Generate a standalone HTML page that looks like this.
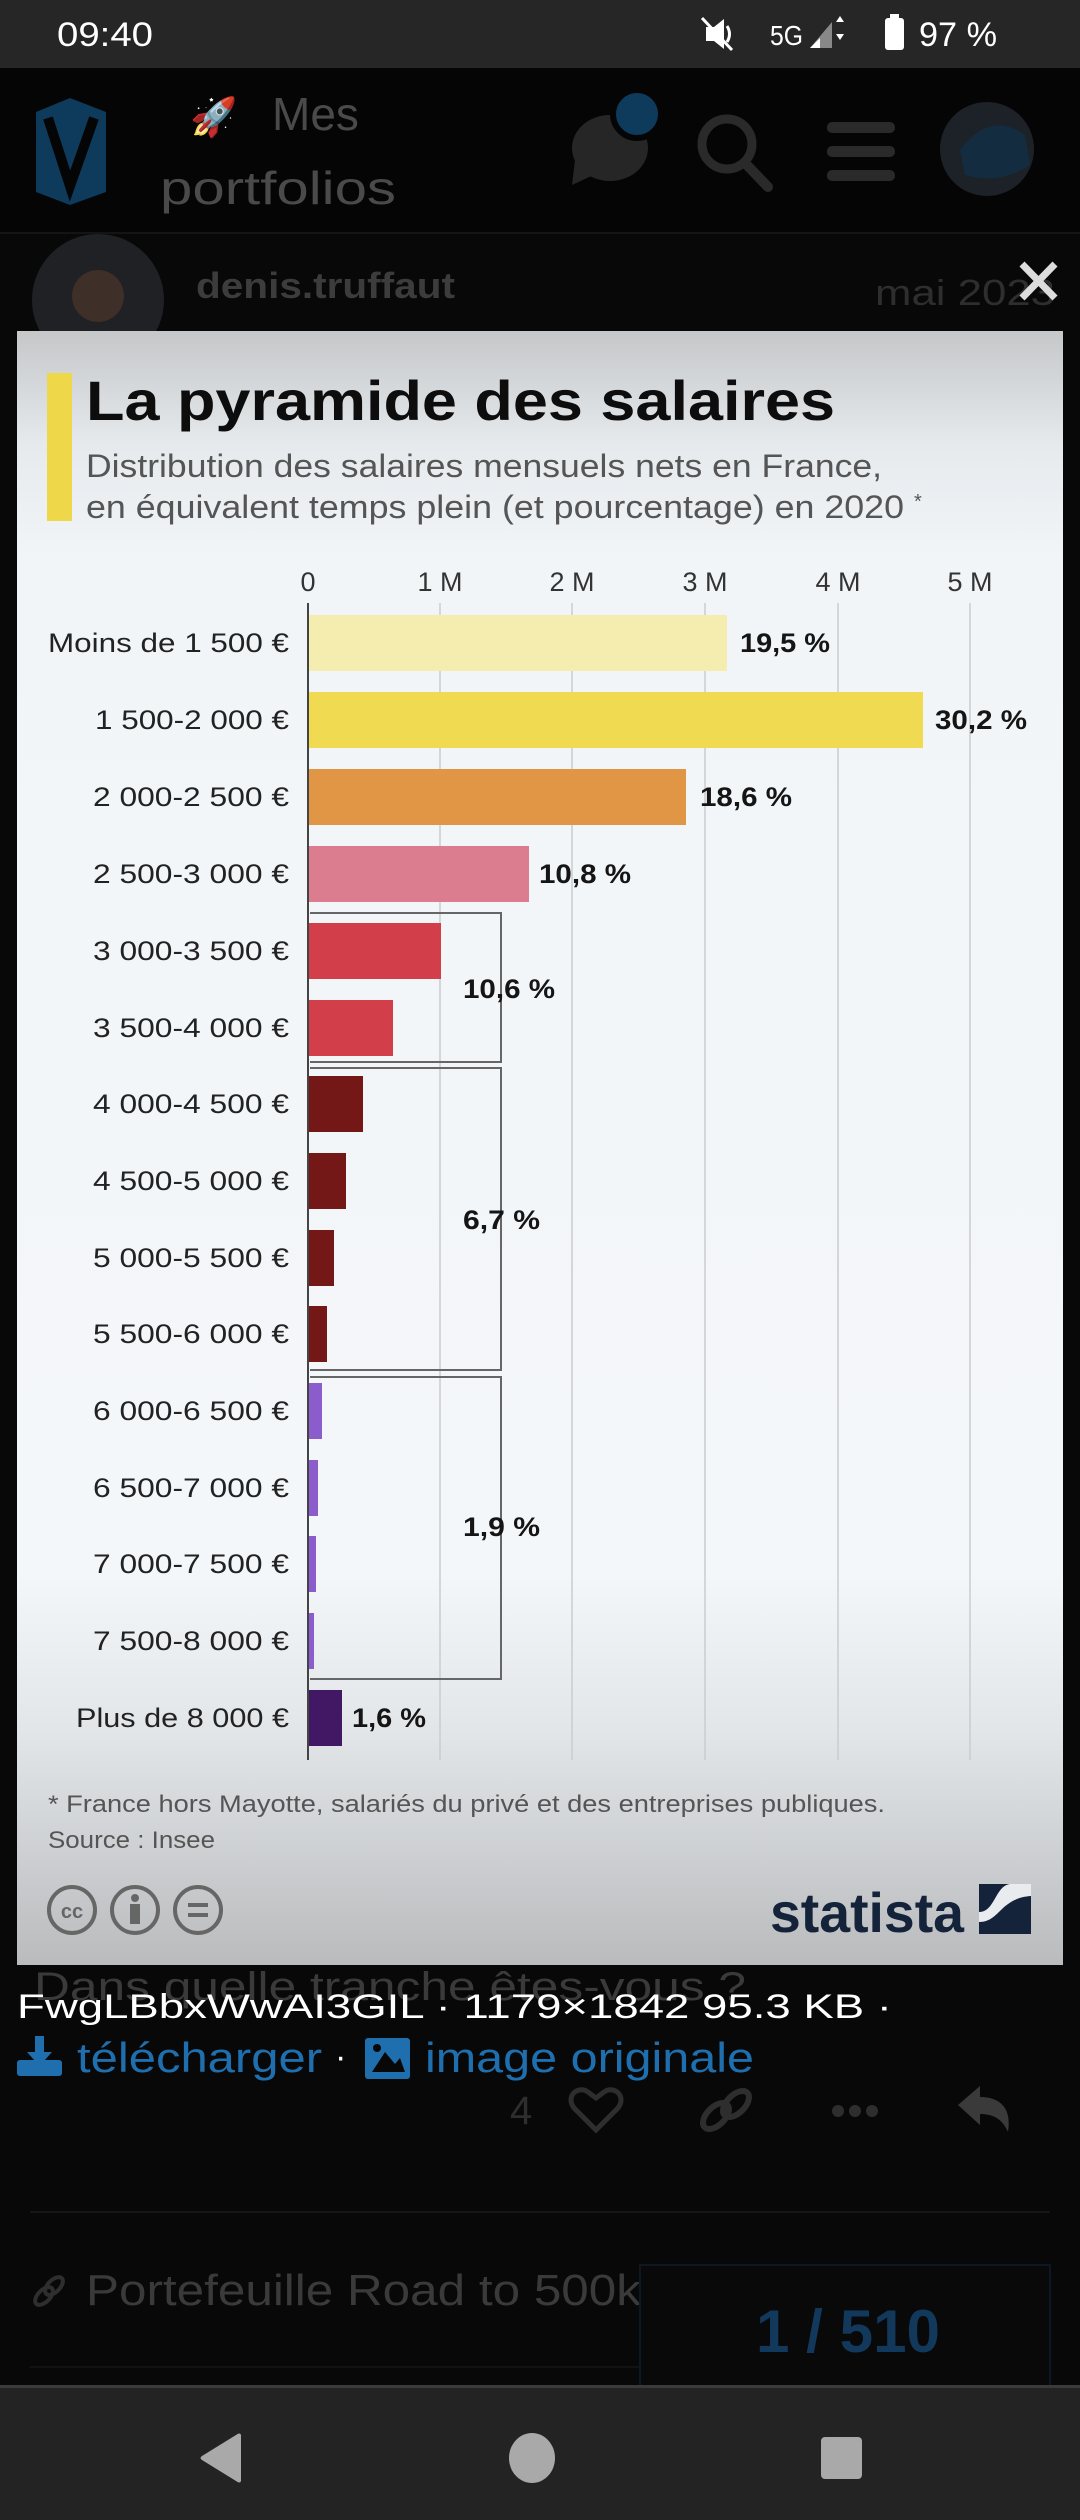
<!DOCTYPE html>
<html><head><meta charset="utf-8">
<style>
html,body{margin:0;padding:0;background:#070707;}
svg{display:block;}
text{font-family:"Liberation Sans",sans-serif;}
</style></head>
<body>
<svg width="1080" height="2520" viewBox="0 0 1080 2520" xmlns="http://www.w3.org/2000/svg">
<defs>
<linearGradient id="panel" x1="0" y1="331" x2="0" y2="1965" gradientUnits="userSpaceOnUse">
<stop offset="0" stop-color="#c5c7c9"/>
<stop offset="0.07" stop-color="#e6eaed"/>
<stop offset="0.14" stop-color="#f2f5f8"/>
<stop offset="0.76" stop-color="#f4f7fa"/>
<stop offset="0.86" stop-color="#e2e5e8"/>
<stop offset="1" stop-color="#b9bbbd"/>
</linearGradient>
</defs>
<rect x="0" y="0" width="1080" height="2520" fill="#080808"/>
<!-- status bar -->
<rect x="0" y="0" width="1080" height="68" fill="#262626"/>
<text x="57" y="46" font-size="34" fill="#fff" textLength="96" lengthAdjust="spacingAndGlyphs">09:40</text>
<g fill="#fff">
<path d="M706,27 L714,27 L724,19 L724,49 L714,41 L706,41 Z"/>
<line x1="702" y1="18" x2="732" y2="50" stroke="#fff" stroke-width="3"/>
<path d="M727,26 Q732,34 727,42" stroke="#fff" stroke-width="3" fill="none"/>
<text x="770" y="45" font-size="28" fill="#fff" textLength="33" lengthAdjust="spacingAndGlyphs">5G</text>
<polygon points="810,48 832,48 832,22" fill="#888"/>
<polygon points="810,48 820,48 820,38" fill="#fff"/>
<path d="M836,22 L840,16 L844,22 Z M836,34 L840,40 L844,34 Z" fill="#fff"/>
<rect x="885" y="18" width="19" height="32" rx="3"/>
<rect x="890" y="14" width="9" height="5"/>
<text x="919" y="46" font-size="34" textLength="78" lengthAdjust="spacingAndGlyphs">97 %</text>
</g>
<!-- app header -->
<rect x="0" y="68" width="1080" height="164" fill="#050505"/>
<path d="M36,112 L70,98 L106,112 L106,192 L70,205 L36,192 Z" fill="#0e3a5c"/>
<path d="M48,118 L70,186 L94,118" stroke="#050505" stroke-width="10" fill="none"/>
<text x="190" y="130" font-size="38">🚀</text>
<text x="272" y="130" font-size="46" fill="#4a4a4a">Mes</text>
<text x="160" y="204" font-size="46" fill="#4a4a4a" textLength="236" lengthAdjust="spacingAndGlyphs">portfolios</text>
<ellipse cx="610" cy="148" rx="38" ry="33" fill="#262626"/>
<polygon points="575,160 572,185 600,172" fill="#262626"/>
<circle cx="637" cy="114" r="24" fill="#0e3a5c" stroke="#050505" stroke-width="6"/>
<circle cx="727" cy="144" r="25" fill="none" stroke="#2a2a2a" stroke-width="9"/>
<line x1="745" y1="163" x2="768" y2="187" stroke="#2a2a2a" stroke-width="10" stroke-linecap="round"/>
<rect x="827" y="122" width="68" height="11" rx="5" fill="#2a2a2a"/>
<rect x="827" y="146" width="68" height="11" rx="5" fill="#2a2a2a"/>
<rect x="827" y="170" width="68" height="11" rx="5" fill="#2a2a2a"/>
<circle cx="987" cy="149" r="47" fill="#1c2227"/>
<path d="M960,150 Q990,110 1025,135 L1030,165 Q1000,185 965,175 Z" fill="#142c40"/>
<!-- post row -->
<rect x="0" y="232" width="1080" height="2" fill="#141414"/>
<circle cx="98" cy="300" r="66" fill="#1f2124"/>
<circle cx="98" cy="296" r="26" fill="#3e2f28"/>
<text x="196" y="298" font-size="36" font-weight="bold" fill="#3c3c3c" textLength="259" lengthAdjust="spacingAndGlyphs">denis.truffaut</text>
<text x="875" y="305" font-size="36" fill="#2e2e2e" textLength="180" lengthAdjust="spacingAndGlyphs">mai 2023</text>
<path d="M1022,264 L1055,298 M1055,264 L1022,298" stroke="#dcdcdc" stroke-width="7"/>
<text x="34" y="2000" font-size="40" fill="#3a3a3a" textLength="712" lengthAdjust="spacingAndGlyphs">Dans quelle tranche êtes-vous ?</text>
<!-- panel -->
<rect x="17" y="331" width="1046" height="1634" fill="url(#panel)"/>
<rect x="47" y="373" width="25" height="148" fill="#eed84a"/>
<text x="86" y="420" font-size="56" font-weight="bold" fill="#0d0d0d" textLength="749" lengthAdjust="spacingAndGlyphs">La pyramide des salaires</text>
<text x="86" y="477" font-size="32" fill="#555" textLength="796" lengthAdjust="spacingAndGlyphs">Distribution des salaires mensuels nets en France,</text>
<text x="86" y="518" font-size="32" fill="#555" textLength="818" lengthAdjust="spacingAndGlyphs">en équivalent temps plein (et pourcentage) en 2020</text>
<text x="914" y="508" font-size="20" fill="#555">*</text>
<g stroke="#c9ccd0" stroke-width="1.5">
<line x1="440" y1="603" x2="440" y2="1760"/>
<line x1="572" y1="603" x2="572" y2="1760"/>
<line x1="705" y1="603" x2="705" y2="1760"/>
<line x1="838" y1="603" x2="838" y2="1760"/>
<line x1="970" y1="603" x2="970" y2="1760"/>
</g>
<g font-size="27" fill="#333" text-anchor="middle">
<text x="308" y="591">0</text>
<text x="440" y="591">1 M</text>
<text x="572" y="591">2 M</text>
<text x="705" y="591">3 M</text>
<text x="838" y="591">4 M</text>
<text x="970" y="591">5 M</text>
</g>
<g fill="none" stroke="#666" stroke-width="2">
<polyline points="310,913 501,913 501,1062 310,1062"/>
<polyline points="310,1068 501,1068 501,1370 310,1370"/>
<polyline points="310,1377 501,1377 501,1679 310,1679"/>
</g>
<g>
<rect x="308" y="615" width="419" height="56" fill="#f5edb0"/>
<rect x="308" y="692" width="615" height="56" fill="#efda52"/>
<rect x="308" y="769" width="378" height="56" fill="#e09645"/>
<rect x="308" y="846" width="221" height="56" fill="#db7c8f"/>
<rect x="308" y="923" width="133" height="56" fill="#d23e4a"/>
<rect x="308" y="1000" width="85" height="56" fill="#d23e4a"/>
<rect x="308" y="1076" width="55" height="56" fill="#731817"/>
<rect x="308" y="1153" width="38" height="56" fill="#731817"/>
<rect x="308" y="1230" width="26" height="56" fill="#731817"/>
<rect x="308" y="1306" width="19" height="56" fill="#731817"/>
<rect x="308" y="1383" width="14" height="56" fill="#8a5ccc"/>
<rect x="308" y="1460" width="10" height="56" fill="#8a5ccc"/>
<rect x="308" y="1536" width="8" height="56" fill="#8a5ccc"/>
<rect x="308" y="1613" width="6" height="56" fill="#8a5ccc"/>
<rect x="308" y="1690" width="34" height="56" fill="#421764"/>
</g>
<line x1="308" y1="603" x2="308" y2="1760" stroke="#444" stroke-width="2"/>
<g font-size="27" fill="#222" text-anchor="end">
<text x="289" y="652" textLength="241" lengthAdjust="spacingAndGlyphs">Moins de 1 500 €</text>
<text x="289" y="729" textLength="194" lengthAdjust="spacingAndGlyphs">1 500-2 000 €</text>
<text x="289" y="806" textLength="196" lengthAdjust="spacingAndGlyphs">2 000-2 500 €</text>
<text x="289" y="883" textLength="196" lengthAdjust="spacingAndGlyphs">2 500-3 000 €</text>
<text x="289" y="960" textLength="196" lengthAdjust="spacingAndGlyphs">3 000-3 500 €</text>
<text x="289" y="1037" textLength="196" lengthAdjust="spacingAndGlyphs">3 500-4 000 €</text>
<text x="289" y="1113" textLength="196" lengthAdjust="spacingAndGlyphs">4 000-4 500 €</text>
<text x="289" y="1190" textLength="196" lengthAdjust="spacingAndGlyphs">4 500-5 000 €</text>
<text x="289" y="1267" textLength="196" lengthAdjust="spacingAndGlyphs">5 000-5 500 €</text>
<text x="289" y="1343" textLength="196" lengthAdjust="spacingAndGlyphs">5 500-6 000 €</text>
<text x="289" y="1420" textLength="196" lengthAdjust="spacingAndGlyphs">6 000-6 500 €</text>
<text x="289" y="1497" textLength="196" lengthAdjust="spacingAndGlyphs">6 500-7 000 €</text>
<text x="289" y="1573" textLength="196" lengthAdjust="spacingAndGlyphs">7 000-7 500 €</text>
<text x="289" y="1650" textLength="196" lengthAdjust="spacingAndGlyphs">7 500-8 000 €</text>
<text x="289" y="1727" textLength="213" lengthAdjust="spacingAndGlyphs">Plus de 8 000 €</text>
</g>
<g font-size="27" font-weight="bold" fill="#151515">
<text x="740" y="652" textLength="90" lengthAdjust="spacingAndGlyphs">19,5 %</text>
<text x="935" y="729" textLength="92" lengthAdjust="spacingAndGlyphs">30,2 %</text>
<text x="700" y="806" textLength="92" lengthAdjust="spacingAndGlyphs">18,6 %</text>
<text x="539" y="883" textLength="92" lengthAdjust="spacingAndGlyphs">10,8 %</text>
<text x="463" y="998" textLength="92" lengthAdjust="spacingAndGlyphs">10,6 %</text>
<text x="463" y="1229" textLength="77" lengthAdjust="spacingAndGlyphs">6,7 %</text>
<text x="463" y="1536" textLength="77" lengthAdjust="spacingAndGlyphs">1,9 %</text>
<text x="352" y="1727" textLength="74" lengthAdjust="spacingAndGlyphs">1,6 %</text>
</g>
<text x="48" y="1812" font-size="24" fill="#555" textLength="837" lengthAdjust="spacingAndGlyphs">* France hors Mayotte, salariés du privé et des entreprises publiques.</text>
<text x="48" y="1848" font-size="24" fill="#555" textLength="167" lengthAdjust="spacingAndGlyphs">Source : Insee</text>
<g fill="none" stroke="#666" stroke-width="4">
<circle cx="72" cy="1910" r="23"/>
<circle cx="135" cy="1910" r="23"/>
<circle cx="198" cy="1910" r="23"/>
</g>
<text x="72" y="1918" font-size="20" font-weight="bold" fill="#666" text-anchor="middle">cc</text>
<circle cx="135" cy="1898" r="4" fill="#666"/>
<rect x="130" y="1904" width="10" height="20" fill="#666"/>
<rect x="188" y="1903" width="20" height="4" fill="#666"/>
<rect x="188" y="1913" width="20" height="4" fill="#666"/>
<text x="770" y="1932" font-size="56" font-weight="bold" fill="#15233a" textLength="194" lengthAdjust="spacingAndGlyphs">statista</text>
<rect x="979" y="1884" width="52" height="50" fill="#15233a"/>
<path d="M979,1922 C1000,1922 1000,1898 1031,1896 L1031,1884 L1010,1884 C995,1886 995,1912 979,1912 Z" fill="#e9ecef"/>
<text x="17" y="2018" font-size="34" fill="#fff" textLength="875" lengthAdjust="spacingAndGlyphs">FwgLBbxWwAI3GIL · 1179×1842 95.3 KB ·</text>
<g fill="#1f6fae">
<rect x="17" y="2060" width="45" height="16" rx="3"/>
<rect x="35" y="2036" width="9" height="24"/>
<polygon points="27,2052 52,2052 39.5,2066"/>
<text x="77" y="2072" font-size="42" textLength="245" lengthAdjust="spacingAndGlyphs">télécharger</text>
<text x="335" y="2068" font-size="34" fill="#fff">·</text>
<rect x="365" y="2038" width="45" height="41" rx="3"/>
<text x="425" y="2072" font-size="42" textLength="329" lengthAdjust="spacingAndGlyphs">image originale</text>
</g>
<polygon points="372,2072 385,2052 395,2064 400,2058 405,2072" fill="#080808"/>
<circle cx="377" cy="2048" r="4" fill="#080808"/>
<text x="510" y="2124" font-size="40" fill="#2e2e2e">4</text>
<path d="M596,2130 L574,2108 C565,2096 578,2085 588,2092 L596,2098 L604,2092 C614,2085 627,2096 618,2108 Z" fill="none" stroke="#2e2e2e" stroke-width="5"/>
<g fill="none" stroke="#2e2e2e" stroke-width="6">
<ellipse cx="716" cy="2116" rx="9" ry="16" transform="rotate(45 716 2116)"/>
<ellipse cx="736" cy="2104" rx="9" ry="16" transform="rotate(45 736 2104)"/>
</g>
<circle cx="838" cy="2111" r="6" fill="#2e2e2e"/>
<circle cx="855" cy="2111" r="6" fill="#2e2e2e"/>
<circle cx="872" cy="2111" r="6" fill="#2e2e2e"/>
<path d="M958,2105 L980,2086 L980,2097 C1000,2097 1012,2108 1008,2132 C1002,2118 992,2114 980,2114 L980,2125 Z" fill="#3a3a3a"/>
<rect x="30" y="2211" width="1020" height="2" fill="#161616"/>
<g fill="none" stroke="#2e2e2e" stroke-width="4">
<ellipse cx="44" cy="2296" rx="6" ry="11" transform="rotate(45 44 2296)"/>
<ellipse cx="54" cy="2286" rx="6" ry="11" transform="rotate(45 54 2286)"/>
</g>
<text x="86" y="2305" font-size="44" fill="#3a3a3a" textLength="555" lengthAdjust="spacingAndGlyphs">Portefeuille Road to 500k</text>
<rect x="30" y="2366" width="610" height="2" fill="#121212"/>
<rect x="640" y="2265" width="410" height="125" fill="#090909" stroke="#0e1824" stroke-width="2"/>
<text x="756" y="2352" font-size="60" font-weight="bold" fill="#12395c" textLength="184" lengthAdjust="spacingAndGlyphs">1 / 510</text>
<rect x="0" y="2385" width="1080" height="135" fill="#232323"/>
<rect x="0" y="2385" width="1080" height="3" fill="#3a3a3a"/>
<path d="M241,2435 L241,2481 Q240,2484 236,2481 L202,2460 Q199,2458 202,2456 L236,2435 Q240,2432 241,2435 Z" fill="#a9a9a9"/>
<ellipse cx="532" cy="2458" rx="23" ry="25" fill="#a9a9a9"/>
<rect x="821" y="2437" width="41" height="42" rx="4" fill="#a9a9a9"/>
</svg>
</body></html>
